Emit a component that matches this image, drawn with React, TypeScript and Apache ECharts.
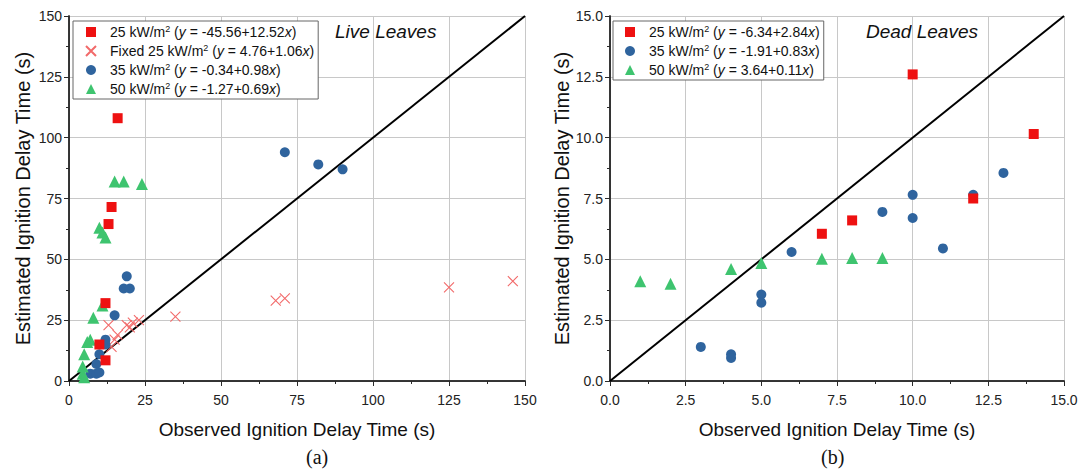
import React, { useEffect, useRef } from "react";
import * as echarts from "echarts";

// ---------- data (observed, estimated) ----------
const liveRed25: [number, number][] = [
  [16, 108], [14, 71.5], [13, 64.5], [12, 32], [10, 15], [12, 8.5],
];
const liveFixed25: [number, number][] = [
  [13, 23], [14, 14], [15, 17], [16, 19], [19, 23], [20, 22], [21, 24], [23, 25],
  [35, 26.5], [68, 33], [71, 34], [125, 38.5], [146, 41],
];
const liveBlue35: [number, number][] = [
  [71, 94], [82, 89], [90, 87], [19, 43], [18, 38], [20, 38], [15, 27], [12, 17],
  [12, 15], [10, 11], [9, 7], [7, 3], [9, 3], [10, 3.5],
];
const liveGreen50: [number, number][] = [
  [15, 82], [18, 82], [24, 81], [10, 63], [11, 61], [12, 59], [11, 31], [8, 26],
  [7, 17], [6, 16], [5, 11], [4.5, 6], [4.5, 3], [5, 1.5],
];

const deadRed25: [number, number][] = [
  [7, 6.05], [8, 6.6], [10, 12.6], [12, 7.5], [14, 10.15],
];
const deadBlue35: [number, number][] = [
  [3, 1.4], [4, 1.1], [4, 0.95], [5, 3.55], [5, 3.22], [6, 5.3], [9, 6.95],
  [10, 7.65], [10, 6.7], [11, 5.45], [12, 7.65], [13, 8.55],
];
const deadGreen50: [number, number][] = [
  [1, 4.1], [2, 4.0], [4, 4.6], [5, 4.85], [7, 5.02], [8, 5.05], [9, 5.05],
];

const liveLegendFlux = ["25", "Fixed 25", "35", "50"];
const liveLegendEq = ["-45.56+12.52", "4.76+1.06", "-0.34+0.98", "-1.27+0.69"];
const deadLegendFlux = ["25", "35", "50"];
const deadLegendEq = ["-6.34+2.84", "-1.91+0.83", "3.64+0.11"];

const liveTicks = [0, 25, 50, 75, 100, 125, 150];
const deadTicks = [0, 2.5, 5, 7.5, 10, 12.5, 15];

const RED = "#ee1111";
const PINK = "#f26a6a";
const BLUE = "#2f649e";
const GREEN = "#3ec46f";
const FONT = "'Liberation Sans', Arial, sans-serif";
const CROSS = "path://M0,0L10,10M10,0L0,10";

const legendName = (flux: string, eq: string, chart: string) =>
  `${chart}|${flux}|${eq}`;

const fmtLegend = (name: string) => {
  const [, flux, eq] = name.split("|");
  return `{t|${flux} kW/m}{s|2}{t| (}{i|y}{t| = ${eq}}{i|x}{t|)}`;
};

export default function App() {
  const ref = useRef<HTMLDivElement>(null);
  useEffect(() => {
    if (!ref.current) return;
    const chart = echarts.init(ref.current, undefined, { renderer: "svg" });

    const liveNames = liveLegendFlux.map((f, i) => legendName(f, liveLegendEq[i], "L"));
    const deadNames = deadLegendFlux.map((f, i) => legendName(f, deadLegendEq[i], "D"));
    const liveIcons = ["rect", CROSS, "circle", "triangle"];
    const deadIcons = ["rect", "circle", "triangle"];

    const grids = [
      { left: 69, right: 564, top: 16, bottom: 89 },
      { left: 610, right: 25, top: 16, bottom: 89 },
    ];

    const axisLine = { show: true, lineStyle: { color: "#2a2a2a", width: 1.5 } };
    const splitLine = { show: true, lineStyle: { color: "#c8c8c8", width: 1 } };
    const labelStyle = { color: "#222", fontSize: 14, fontFamily: FONT };

    const mkAxis = (
      gridIndex: number,
      ticks: number[],
      pos: string,
      main: boolean,
      isX: boolean,
      name: string
    ) => {
      const interval = ticks[1] - ticks[0];
      const dec = interval % 1 !== 0;
      return {
        type: "value",
        gridIndex,
        position: pos,
        min: ticks[0],
        max: ticks[ticks.length - 1],
        interval,
        axisLine,
        axisTick: { show: true, inside: !main, length: 5, lineStyle: { color: "#2a2a2a", width: 1 } },
        minorTick: { show: true, splitNumber: 2, length: 3, lineStyle: { color: "#2a2a2a", width: 1 } },
        splitLine: main ? splitLine : { show: false },
        axisLabel: main
          ? {
              show: true,
              ...labelStyle,
              margin: isX ? 12 : 7,
              formatter: (v: number) => (dec ? v.toFixed(1) : String(v)),
            }
          : { show: false },
        name: main ? name : "",
        nameLocation: "middle",
        nameGap: isX ? 39 : 36,
        nameTextStyle: { color: "#111", fontSize: isX ? 19 : 20, fontFamily: FONT },
      };
    };

    const xName = "Observed Ignition Delay Time (s)";
    const yName = "Estimated Ignition Delay Time (s)";

    const xAxis = [
      mkAxis(0, liveTicks, "bottom", true, true, xName),
      mkAxis(0, liveTicks, "top", false, true, ""),
      mkAxis(1, deadTicks, "bottom", true, true, xName),
      mkAxis(1, deadTicks, "top", false, true, ""),
    ];
    const yAxis = [
      mkAxis(0, liveTicks, "left", true, false, yName),
      mkAxis(0, liveTicks, "right", false, false, ""),
      mkAxis(1, deadTicks, "left", true, false, yName),
      mkAxis(1, deadTicks, "right", false, false, ""),
    ];

    const scatter = (
      name: string,
      data: [number, number][],
      ax: number,
      symbol: string,
      size: number,
      color: string,
      cross = false
    ) => ({
      type: "scatter",
      name,
      data,
      xAxisIndex: ax,
      yAxisIndex: ax,
      symbol,
      symbolSize: size,
      z: 5,
      itemStyle: cross
        ? { color: "rgba(0,0,0,0)", borderColor: color, borderWidth: 1.1, opacity: 1 }
        : { color, opacity: 1 },
      emphasis: { disabled: true },
    });

    const diag = (ax: number, ticks: number[]) => ({
      type: "line",
      name: "diag" + ax,
      data: [
        [ticks[0], ticks[0]],
        [ticks[ticks.length - 1], ticks[ticks.length - 1]],
      ],
      xAxisIndex: ax,
      yAxisIndex: ax,
      symbol: "none",
      z: 3,
      lineStyle: { color: "#000", width: 2 },
    });

    const legendRich = {
      t: { fontSize: 14, fontFamily: FONT, color: "#111" },
      i: { fontSize: 14, fontFamily: FONT, color: "#111", fontStyle: "italic" },
      s: { fontSize: 9, fontFamily: FONT, color: "#111", verticalAlign: "top", padding: [0, 0, 7, 0] },
    };

    const mkLegend = (names: string[], icons: string[], left: number) => ({
      show: true,
      orient: "vertical",
      left,
      top: 21,
      data: names.map((n, i) => ({ name: n, icon: icons[i] })),
      itemWidth: 10,
      itemHeight: 10,
      itemGap: 4,
      padding: [3, 4, 3, 12],
      borderColor: "#666",
      borderWidth: 1,
      backgroundColor: "#fff",
      selectedMode: false,
      formatter: fmtLegend,
      textStyle: { rich: legendRich, padding: [0, 0, 0, 9] },
    });

    chart.setOption({
      animation: false,
      backgroundColor: "#fff",
      grid: grids,
      xAxis,
      yAxis,
      legend: [mkLegend(liveNames, liveIcons, 73), mkLegend(deadNames, deadIcons, 613)],
      series: [
        diag(0, liveTicks),
        scatter(liveNames[1], liveFixed25, 0, CROSS, 10, PINK, true),
        scatter(liveNames[2], liveBlue35, 0, "circle", 10, BLUE),
        scatter(liveNames[3], liveGreen50, 0, "triangle", 12, GREEN),
        scatter(liveNames[0], liveRed25, 0, "rect", 10, RED),
        diag(2, deadTicks),
        scatter(deadNames[1], deadBlue35, 2, "circle", 10, BLUE),
        scatter(deadNames[2], deadGreen50, 2, "triangle", 12, GREEN),
        scatter(deadNames[0], deadRed25, 2, "rect", 10, RED),
      ],
      graphic: [
        {
          type: "text",
          left: 335,
          top: 22,
          style: { text: "Live Leaves", font: `italic 19px ${FONT}`, fill: "#111" },
        },
        {
          type: "text",
          left: 866,
          top: 22,
          style: { text: "Dead Leaves", font: `italic 19px ${FONT}`, fill: "#111" },
        },
        {
          type: "text",
          left: 306,
          top: 447,
          style: { text: "(a)", font: "20px 'Liberation Serif', 'Times New Roman', serif", fill: "#111" },
        },
        {
          type: "text",
          left: 821,
          top: 447,
          style: { text: "(b)", font: "20px 'Liberation Serif', 'Times New Roman', serif", fill: "#111" },
        },
      ],
    });
    return () => chart.dispose();
  }, []);

  return <div ref={ref} style={{ width: 1089, height: 470, position: "absolute", left: 0, top: 0 }} />;
}
